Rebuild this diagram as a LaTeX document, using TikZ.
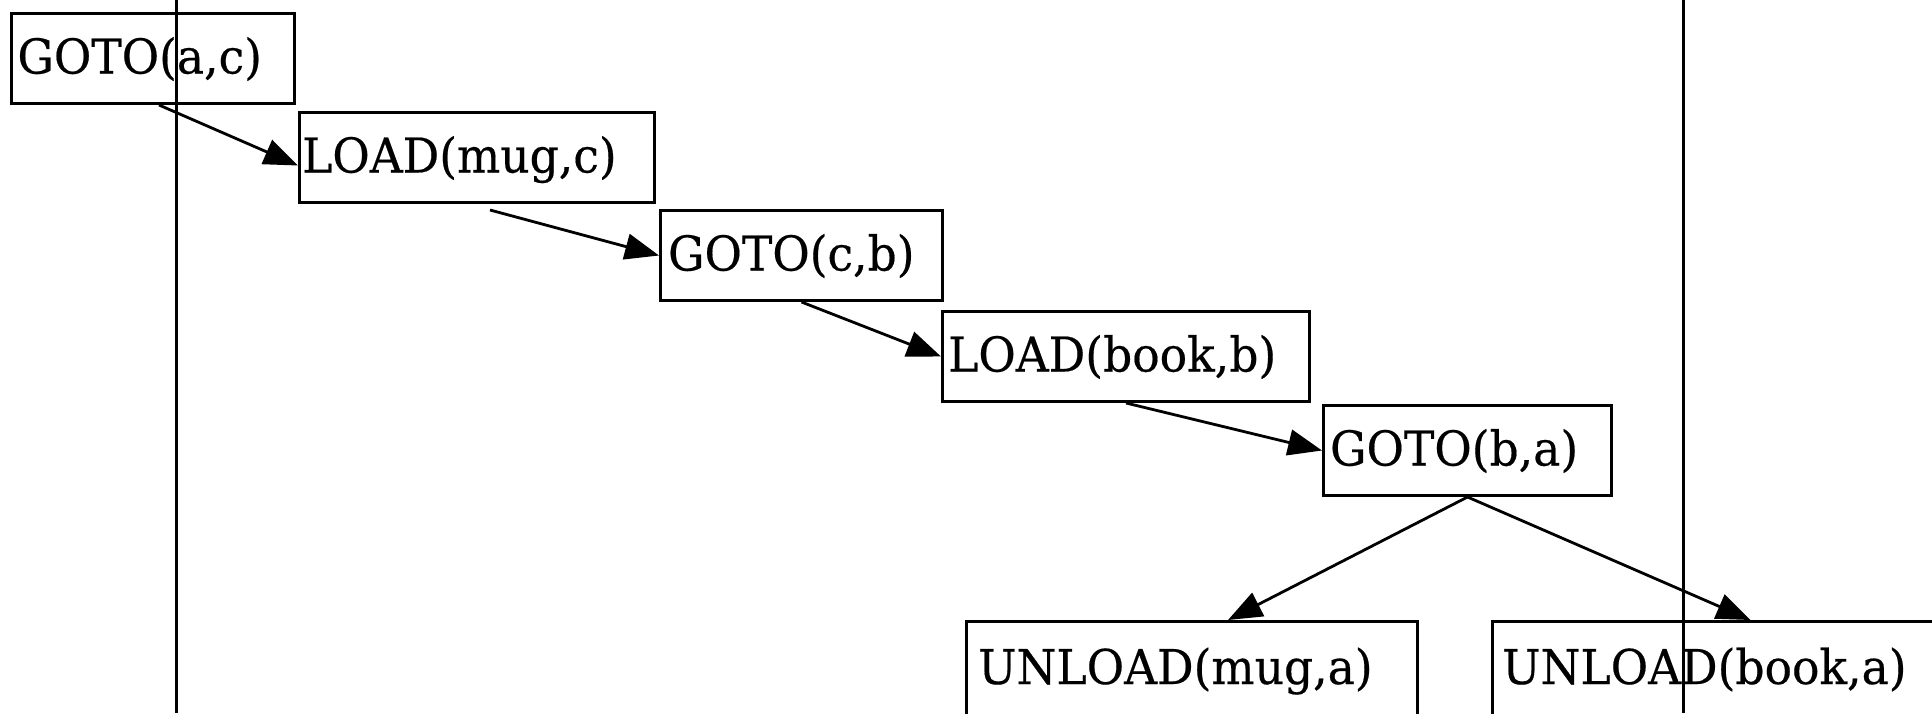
\documentclass[tikz,border=0pt]{standalone}
\usepackage{fontspec}
\setmainfont[FakeStretch=0.95,FakeBold=0.4]{DejaVu Serif}
\usetikzlibrary{arrows.meta,positioning,calc}

\begin{document}
\begin{tikzpicture}[x=0.5pt,y=-0.5pt,>={Triangle[length=17pt,width=13pt]},
  act/.style={draw,line width=1.5pt,rectangle,anchor=north west,align=left,
    inner ysep=0pt,minimum height=45pt,text height=17.5pt,text depth=2.5pt,
    font=\fontsize{24}{28}\selectfont},
  flow/.style={->,line width=1.4pt}]

  \useasboundingbox (0,0) rectangle (1932,713);
  \clip (0,0) rectangle (1932,713);

  % ------- plan steps -------
  \node[act,inner xsep=3pt,text width=135.5pt] (goac) at (10,12) {GOTO(a,c)};
  \node[act,inner xsep=1.3pt,text width=174.9pt] (loadmug) at (298,111) {LOAD(mug,c)};
  \node[act,inner xsep=3.8pt,text width=133.4pt] (gocb) at (659,209) {GOTO(c,b)};
  \node[act,inner xsep=2.8pt,text width=177.9pt] (loadbook) at (941,310) {LOAD(book,b)};
  \node[act,inner xsep=3.3pt,text width=137.4pt] (goba) at (1322,404) {GOTO(b,a)};

  % ------- last two steps (cut off by the page edge) -------
  \node[act,minimum height=48pt,text depth=3pt,inner xsep=5.8pt,text width=213.9pt] (unmug) at (965,620) {UNLOAD(mug,a)};
  \node[act,minimum height=48pt,text depth=3pt,inner xsep=4.8pt,text width=225.4pt] (unbook) at (1491,620) {UNLOAD(book,a)};

  % ------- ordering -------
  \draw[flow] ([xshift=3pt]goac.south) -- ([yshift=-4pt]loadmug.west);
  \draw[flow] ([xshift=6.5pt,yshift=-3pt]loadmug.south) -- (gocb.west);
  \draw[flow] (gocb.south) -- (loadbook.west);
  \draw[flow] (loadbook.south) -- (goba.west);
  \draw[flow] (goba.south) -- ([xshift=18pt]unmug.north);
  \draw[flow] (goba.south) -- ([xshift=11.5pt]unbook.north);

  % ------- vertical rules -------
  \draw[line width=1.5pt] (176,0) -- (176,713);
  \draw[line width=1.5pt] (1683,0) -- (1683,713);

\end{tikzpicture}
\end{document}
